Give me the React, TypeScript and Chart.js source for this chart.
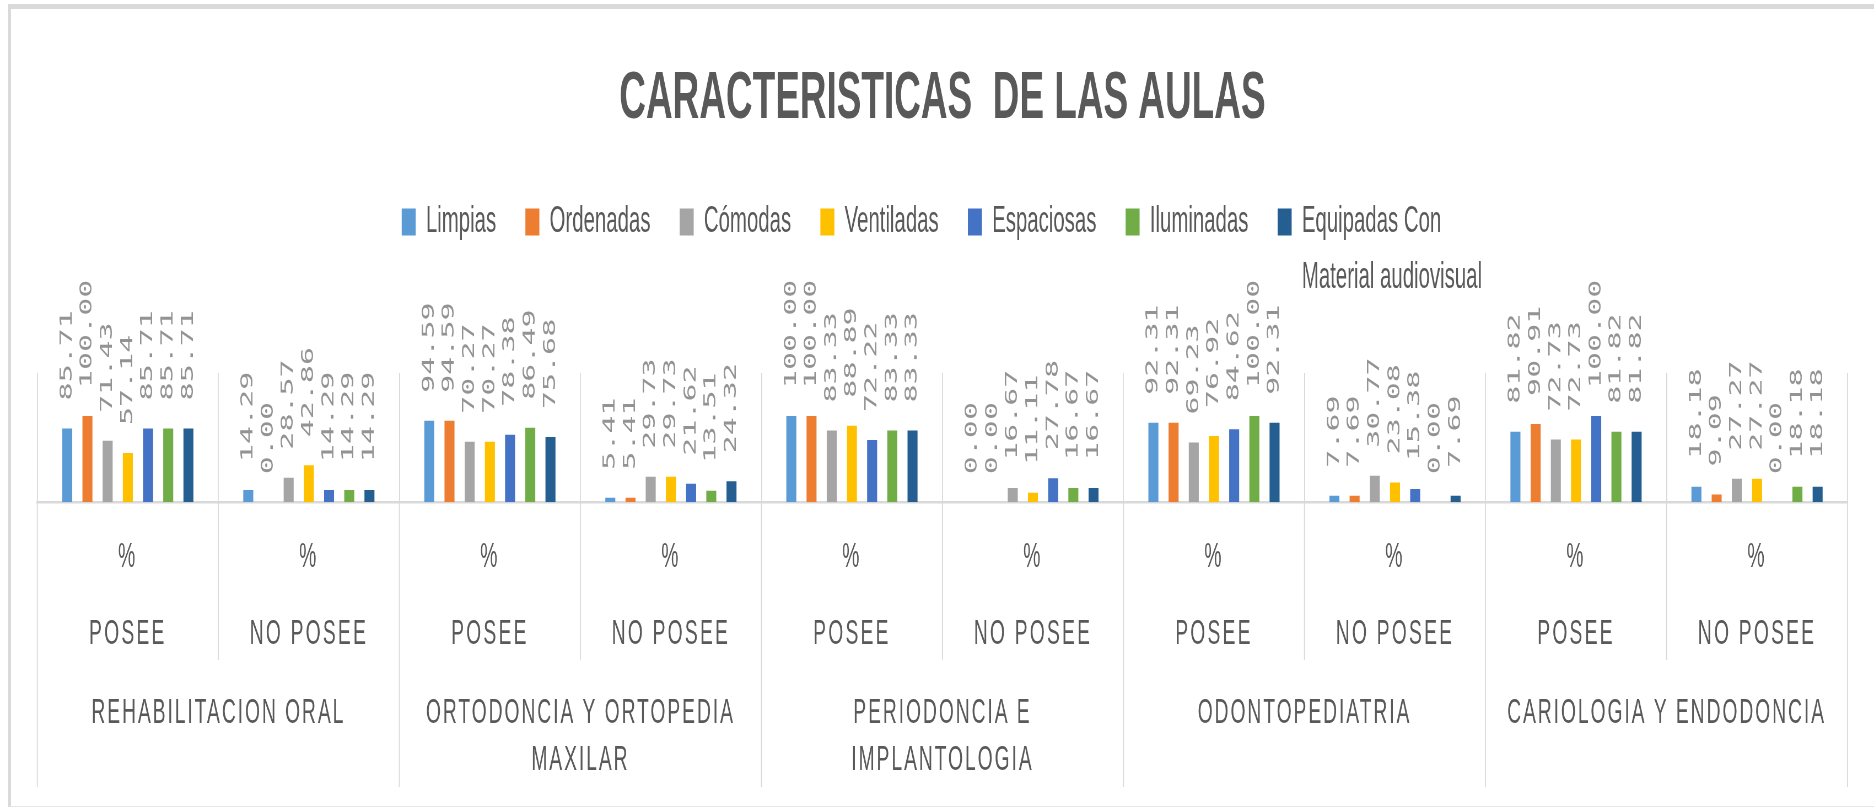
import React, { useEffect, useRef } from "react";
import { Chart, registerables } from "chart.js";

Chart.register(...registerables);

// ---------------- DATA ----------------
const chartTitle = "CARACTERISTICAS  DE LAS AULAS";
const areaNames: string[][] = [
  ["REHABILITACION ORAL"],
  ["ORTODONCIA Y ORTOPEDIA", "MAXILAR"],
  ["PERIODONCIA E", "IMPLANTOLOGIA"],
  ["ODONTOPEDIATRIA"],
  ["CARIOLOGIA Y ENDODONCIA"],
];
const statusNames = ["POSEE", "NO POSEE"];
const unitName = "%";
const categoryLabels = areaNames.flatMap((a) => statusNames.map((s) => `${a.join(" ")} ${s}`));

const seriesNames = ["Limpias", "Ordenadas", "Cómodas", "Ventiladas", "Espaciosas", "Iluminadas", "Equipadas Con Material audiovisual"];
const legendLines: string[][] = [
  ["Limpias"],
  ["Ordenadas"],
  ["Cómodas"],
  ["Ventiladas"],
  ["Espaciosas"],
  ["Iluminadas"],
  ["Equipadas Con", "Material audiovisual"],
];

const limpias = [85.71, 14.29, 94.59, 5.41, 100.0, 0.0, 92.31, 7.69, 81.82, 18.18];
const ordenadas = [100.0, 0.0, 94.59, 5.41, 100.0, 0.0, 92.31, 7.69, 90.91, 9.09];
const comodas = [71.43, 28.57, 70.27, 29.73, 83.33, 16.67, 69.23, 30.77, 72.73, 27.27];
const ventiladas = [57.14, 42.86, 70.27, 29.73, 88.89, 11.11, 76.92, 23.08, 72.73, 27.27];
const espaciosas = [85.71, 14.29, 78.38, 21.62, 72.22, 27.78, 84.62, 15.38, 100.0, 0.0];
const iluminadas = [85.71, 14.29, 86.49, 13.51, 83.33, 16.67, 100.0, 0.0, 81.82, 18.18];
const equipadas = [85.71, 14.29, 75.68, 24.32, 83.33, 16.67, 92.31, 7.69, 81.82, 18.18];
const seriesValues = [limpias, ordenadas, comodas, ventiladas, espaciosas, iluminadas, equipadas];

const yMin = 0;
const yMax = 150;

// ---------------- STYLE ----------------
const PAGE_W = 1874;
const PAGE_H = 808;
const LOGICAL_W = 3400;
const SCALE_X = PAGE_W / LOGICAL_W;
const seriesColors = ["#5B9BD5", "#ED7D31", "#A5A5A5", "#FFC000", "#4472C4", "#70AD47", "#255E91"];
const TEXT_COLOR = "#595959";
const LABEL_COLOR = "#939393";
const GRID_COLOR = "#d9d9d9";
const SANS = "'Liberation Sans', Arial, sans-serif";
const MONO = "'DejaVu Sans Mono', monospace";
const LABEL_SIZE = 30;
const LABEL_GAP = 28;
const AXIS_FONT = 35;
const ROW_UNIT_Y = 557;
const ROW_STATUS_Y = 634;
const ROW_AREA_Y = 713;
const ROW_AREA_LINE = 47;
const STATUS_SEP_BOTTOM = 660;
const AREA_SEP_BOTTOM = 787;
const LEGEND_FONT = 37;
const LEGEND_PADDING = 53;
const LEGEND_SHIFT = -38;
const LEGEND_SECOND_LINE = 56;

const valueLabelPlugin = {
  id: "valueLabels",
  afterDatasetsDraw(chart: any) {
    const ctx = chart.ctx as CanvasRenderingContext2D;
    ctx.save();
    ctx.font = `${LABEL_SIZE}px ${MONO}`;
    ctx.fillStyle = LABEL_COLOR;
    ctx.textAlign = "left";
    ctx.textBaseline = "middle";
    chart.data.datasets.forEach((ds: any, di: number) => {
      const meta = chart.getDatasetMeta(di);
      meta.data.forEach((bar: any, i: number) => {
        const v = ds.data[i] as number;
        ctx.save();
        ctx.translate(bar.x, bar.y - LABEL_GAP);
        ctx.rotate(-Math.PI / 2);
        ctx.fillText(v.toFixed(2), 0, 0);
        ctx.restore();
      });
    });
    ctx.restore();
  },
};

const legendShiftPlugin = {
  id: "legendShift",
  afterUpdate(chart: any) {
    const lg = chart.legend;
    if (!lg) return;
    lg.left += LEGEND_SHIFT;
    lg.right += LEGEND_SHIFT;
    (lg.legendHitBoxes || []).forEach((hb: any) => {
      hb.left += LEGEND_SHIFT;
    });
  },
};

const axisPlugin = {
  id: "multiLevelAxis",
  afterDraw(chart: any) {
    const ctx = chart.ctx as CanvasRenderingContext2D;
    const x = chart.scales.x;
    const n = categoryLabels.length;
    const step = x.getPixelForValue(1) - x.getPixelForValue(0);
    const top = chart.chartArea.bottom;
    ctx.save();
    ctx.strokeStyle = GRID_COLOR;
    ctx.lineWidth = 1.8;
    for (let i = 0; i <= n; i++) {
      const px = x.getPixelForValue(0) - step / 2 + i * step;
      const bottom = i % statusNames.length === 0 ? AREA_SEP_BOTTOM : STATUS_SEP_BOTTOM;
      ctx.beginPath();
      ctx.moveTo(px, top);
      ctx.lineTo(px, bottom);
      ctx.stroke();
    }
    ctx.fillStyle = TEXT_COLOR;
    ctx.textAlign = "center";
    ctx.textBaseline = "middle";
    ctx.font = `${AXIS_FONT}px ${SANS}`;
    (ctx as any).letterSpacing = "4px";
    for (let i = 0; i < n; i++) {
      const cx = x.getPixelForValue(i);
      ctx.fillText(unitName, cx, ROW_UNIT_Y);
      ctx.fillText(statusNames[i % statusNames.length], cx, ROW_STATUS_Y);
    }
    (ctx as any).letterSpacing = "3.5px";
    areaNames.forEach((lines, a) => {
      const i0 = a * statusNames.length;
      const cx = (x.getPixelForValue(i0) + x.getPixelForValue(i0 + statusNames.length - 1)) / 2;
      lines.forEach((line, li) => {
        ctx.fillText(line, cx, ROW_AREA_Y + li * ROW_AREA_LINE);
      });
    });
    (ctx as any).letterSpacing = "0px";
    // second line of the last legend entry
    const lg = chart.legend;
    if (lg && lg.legendHitBoxes) {
      const opts = lg.options.labels;
      ctx.font = `${LEGEND_FONT}px ${SANS}`;
      ctx.textAlign = "left";
      ctx.fillStyle = TEXT_COLOR;
      legendLines.forEach((lines, idx) => {
        const hb = lg.legendHitBoxes[idx];
        if (!hb) return;
        for (let l = 1; l < lines.length; l++) {
          const tx = hb.left + opts.boxWidth + LEGEND_FONT / 2;
          const ty = hb.top + LEGEND_FONT / 2 + l * LEGEND_SECOND_LINE;
          ctx.fillText(lines[l], tx, ty);
        }
      });
    }
    ctx.restore();
  },
};

export default function App() {
  const canvasRef = useRef<HTMLCanvasElement | null>(null);

  useEffect(() => {
    if (!canvasRef.current) return;
    const chart = new Chart(canvasRef.current, {
      type: "bar",
      data: {
        labels: categoryLabels,
        datasets: seriesValues.map((d, i) => ({
          label: seriesNames[i],
          data: d,
          backgroundColor: seriesColors[i],
          borderWidth: 0,
          categoryPercentage: 0.781,
          barPercentage: 0.495,
        })),
      },
      options: {
        responsive: true,
        maintainAspectRatio: false,
        animation: false,
        devicePixelRatio: 1,
        events: [],
        layout: { padding: { left: 67.7, right: 48, top: 0, bottom: 305.7 } },
        scales: {
          x: {
            display: true,
            offset: true,
            grid: { display: true, offset: true, color: GRID_COLOR, lineWidth: 1.8, drawTicks: false },
            border: { display: true, color: GRID_COLOR, width: 2.5 },
            ticks: { display: false },
          },
          y: { display: false, min: yMin, max: yMax },
        },
        plugins: {
          title: {
            display: true,
            text: chartTitle,
            color: TEXT_COLOR,
            font: { family: SANS, size: 67, weight: "bold", lineHeight: 1.2 },
            padding: { top: 59.8, bottom: 10.3 },
          },
          subtitle: {
            display: true,
            text: "",
            weight: 500,
            font: { size: 10, lineHeight: 1 },
            padding: { top: 0, bottom: 112.5 },
          } as any,
          legend: {
            display: true,
            position: "top",
            labels: {
              color: TEXT_COLOR,
              font: { family: SANS, size: LEGEND_FONT },
              boxWidth: 25.4,
              boxHeight: 27,
              padding: LEGEND_PADDING,
              generateLabels: (c: any) =>
                (Chart.defaults.plugins.legend.labels.generateLabels as any)(c).map((item: any) => ({
                  ...item,
                  text: legendLines[item.datasetIndex][0],
                })),
            },
          },
          tooltip: { enabled: false },
        },
      },
      plugins: [legendShiftPlugin, valueLabelPlugin, axisPlugin],
    });
    return () => chart.destroy();
  }, []);

  return (
    <div style={{ position: "fixed", left: 0, top: 0, width: PAGE_W, height: PAGE_H, overflow: "hidden", background: "#ffffff" }}>
      <div
        style={{
          position: "absolute",
          left: 8,
          top: 4,
          right: -20,
          bottom: 1,
          borderTop: "5px solid #dadada",
          borderLeft: "3px solid #dadada",
          borderBottom: "1px solid #e6e6e6",
        }}
      />
      <div
        style={{
          position: "absolute",
          left: 0,
          top: 0,
          width: LOGICAL_W,
          height: PAGE_H,
          transform: `scaleX(${SCALE_X})`,
          transformOrigin: "0 0",
        }}
      >
        <canvas ref={canvasRef} />
      </div>
    </div>
  );
}
